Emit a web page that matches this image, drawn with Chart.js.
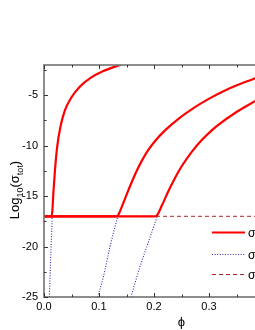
<!DOCTYPE html>
<html><head><meta charset="utf-8">
<script src="https://cdn.jsdelivr.net/npm/chart.js@4/dist/chart.umd.min.js"></script>
<style>html,body{margin:0;padding:0;background:#fff;overflow:hidden;width:255px;height:330px}
#wrap{position:absolute;left:0;top:0;width:340px;height:330px}</style>
</head><body><div id="wrap"><canvas id="c" width="340" height="330"></canvas></div>
<script>
// ---- data ----
const phiTot1 = [0, 0.013, 0.015, 0.017, 0.020, 0.024, 0.030, 0.038, 0.050, 0.065, 0.084, 0.108, 0.14];
const logTot1 = [-17, -17, -16.6, -14.7, -12.4, -10.1, -8.1, -6.5, -5.2, -4.15, -3.3, -2.6, -1.96];
const phiTot2 = [0, 0.131, 0.1345, 0.1418, 0.1509, 0.160, 0.1691, 0.178, 0.190, 0.2024, 0.2205, 0.245, 0.269, 0.2995, 0.332, 0.386];
const logTot2 = [-17, -17, -16.9, -16.02, -14.75, -13.55, -12.44, -11.48, -10.40, -9.51, -8.46, -7.31, -6.37, -5.36, -4.45, -3.26];
const phiTot3 = [0, 0.202, 0.2055, 0.2145, 0.2267, 0.2387, 0.2509, 0.269, 0.2873, 0.3055, 0.314, 0.350, 0.386];
const logTot3 = [-17, -17, -16.9, -15.91, -14.45, -13.15, -11.99, -10.58, -9.41, -8.46, -8.06, -6.66, -5.51];
const phiP1 = [0.0097, 0.0127, 0.015];
const logP1 = [-25, -20.3, -17];
const phiP2 = [0.0976, 0.108, 0.120, 0.134];
const logP2 = [-25, -23.0, -20.0, -17];
const phiP3 = [0.158, 0.1745, 0.187, 0.206];
const logP3 = [-25, -22.0, -20.0, -17];
const phiT = [0, 0.5];
const logT = [-17, -17];
const legendLabels = ['\u03c3tot', '\u03c3p', '\u03c3t'];
const xMajorTicks = [0, 0.1, 0.2, 0.3, 0.4, 0.5];
const xMinorTicks = [0.05, 0.15, 0.25, 0.35, 0.45];
const yMajorTicks = [-25, -20, -15, -10, -5];
const yMinorTicks = [-22.5, -17.5, -12.5, -7.5, -2.5];

const pts = (xs, ys) => xs.map((x, i) => ({x, y: ys[i]}));
const RED = '#ff0000', BLUE = '#2a2aa8', DRED = '#b02a2a';
const FONT = '"Liberation Sans", Arial, sans-serif';

const solid = (d) => ({data: d, borderColor: RED, borderWidth: 2.2, pointRadius: 0, cubicInterpolationMode: 'monotone', fill: false});
const dotted = (d) => ({data: d, borderColor: BLUE, borderWidth: 1.1, borderDash: [1, 1.6], pointRadius: 0, cubicInterpolationMode: 'monotone', fill: false});

const frame = {
  id: 'frame',
  afterDraw(chart) {
    const ctx = chart.ctx, a = chart.chartArea, xs = chart.scales.x, ys = chart.scales.y;
    ctx.save();
    ctx.strokeStyle = '#7a7a7a';
    ctx.lineWidth = 1.7;
    ctx.strokeRect(a.left, a.top, a.right - a.left, a.bottom - a.top);
    ctx.lineWidth = 1;
    ctx.strokeStyle = '#333';
    const tx = (v, len) => {
      const p = Math.round(xs.getPixelForValue(v)) + 0.5;
      ctx.beginPath(); ctx.moveTo(p, a.bottom); ctx.lineTo(p, a.bottom - len);
      ctx.moveTo(p, a.top); ctx.lineTo(p, a.top + len); ctx.stroke();
    };
    const ty = (v, len) => {
      const p = Math.round(ys.getPixelForValue(v)) + 0.5;
      ctx.beginPath(); ctx.moveTo(a.left, p); ctx.lineTo(a.left + len, p);
      ctx.moveTo(a.right, p); ctx.lineTo(a.right - len, p); ctx.stroke();
    };
    xMajorTicks.forEach(v => tx(v, 4)); xMinorTicks.forEach(v => tx(v, 2.5));
    yMajorTicks.forEach(v => ty(v, 4)); yMinorTicks.forEach(v => ty(v, 2.5));
    // x title
    ctx.fillStyle = '#000';
    ctx.font = '13px ' + FONT;
    ctx.textAlign = 'center'; ctx.textBaseline = 'middle';
    ctx.fillText('\u03d5', (a.left + a.right) / 2, 322);
    // y title with subscripts
    ctx.save();
    ctx.translate(14, 190);
    ctx.rotate(-Math.PI / 2);
    const parts = [['Log', 13, 0], ['10', 9, 4], ['(\u03c3', 13, 0], ['tot', 9, 4], [')', 13, 0]];
    let w = 0;
    parts.forEach(p => { ctx.font = p[1] + 'px ' + FONT; w += ctx.measureText(p[0]).width; });
    let x = -w / 2;
    ctx.textAlign = 'left'; ctx.textBaseline = 'alphabetic';
    parts.forEach(p => { ctx.font = p[1] + 'px ' + FONT; ctx.fillText(p[0], x, 5 + p[2]); x += ctx.measureText(p[0]).width; });
    ctx.restore();
    // legend
    const ds = chart.data.datasets;
    const items = [[ds[0], 232], [ds[3], 254], [ds[6], 274]];
    items.forEach((it, i) => {
      const d = it[0], y = it[1] + 0.5;
      ctx.strokeStyle = d.borderColor; ctx.lineWidth = d.borderWidth;
      ctx.setLineDash(d.borderDash || []);
      ctx.beginPath(); ctx.moveTo(212, y); ctx.lineTo(245, y); ctx.stroke();
      ctx.setLineDash([]);
      ctx.fillStyle = '#000'; ctx.font = '12px ' + FONT; ctx.textBaseline = 'middle'; ctx.textAlign = 'left';
      ctx.fillText(legendLabels[i], 248, y + 1);
    });
    ctx.restore();
  }
};

new Chart(document.getElementById('c'), {
  type: 'line',
  data: {datasets: [
    solid(pts(phiTot1, logTot1)), solid(pts(phiTot2, logTot2)), solid(pts(phiTot3, logTot3)),
    dotted(pts(phiP1, logP1)), dotted(pts(phiP2, logP2)), dotted(pts(phiP3, logP3)),
    {data: pts(phiT, logT), borderColor: DRED, borderWidth: 1, borderDash: [4, 3], pointRadius: 0, fill: false, order: 5}
  ]},
  options: {
    responsive: false, animation: false, parsing: false,
    layout: {padding: {left: 0, top: 65, right: 21, bottom: 0}},
    plugins: {legend: {display: false}, tooltip: {enabled: false}},
    scales: {
      x: {type: 'linear', min: 0, max: 0.5,
        grid: {display: false, drawTicks: false}, border: {display: false},
        afterFit: s => { s.height = 33; },
        ticks: {stepSize: 0.1, padding: 3, color: '#000', font: {family: FONT, size: 11},
          callback: v => (Math.abs(v * 10 - Math.round(v * 10)) < 1e-6) ? v.toFixed(1) : ''}},
      y: {type: 'linear', min: -25, max: -2,
        grid: {display: false, drawTicks: false}, border: {display: false},
        afterFit: s => { s.width = 44; },
        ticks: {stepSize: 5, padding: 6, color: '#000', font: {family: FONT, size: 11},
          callback: v => (v % 5 === 0) ? String(v) : ''}}
    }
  },
  plugins: [frame]
});
</script></body></html>
